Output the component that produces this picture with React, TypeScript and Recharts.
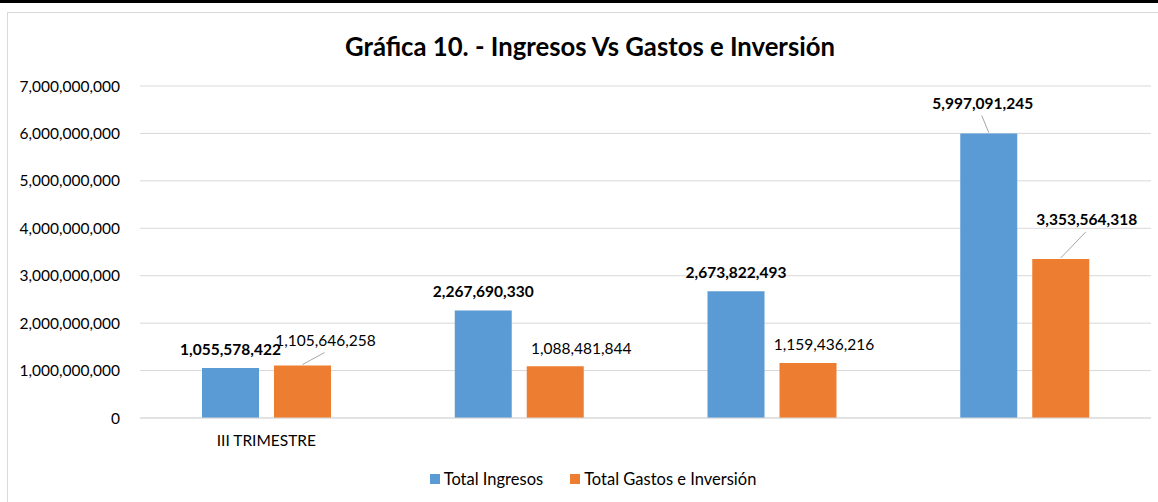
import { BarChart, Bar, XAxis, YAxis, CartesianGrid, LabelList, Legend } from 'recharts';

const categories = ['III TRIMESTRE', '', '', ''];
const totalIngresos = [1055578422, 2267690330, 2673822493, 5997091245];
const totalGastos = [1105646258, 1088481844, 1159436216, 3353564318];
const yTicks = [0, 1000000000, 2000000000, 3000000000, 4000000000, 5000000000, 6000000000, 7000000000];

const BLUE = '#5B9BD5';
const ORANGE = '#ED7D31';
const GRID = '#d9d9d9';

// label placement relative to the top-center of each bar (text center)
const ingresosLabels = [
  { dx: 0, dy: -18, bold: true, leader: false },
  { dx: 0, dy: -19, bold: true, leader: false },
  { dx: 0, dy: -19, bold: true, leader: false },
  { dx: -6, dy: -30, bold: true, leader: true },
];
const gastosLabels = [
  { dx: 23, dy: -25, bold: false, leader: true },
  { dx: 26, dy: -18, bold: false, leader: false },
  { dx: 16, dy: -18, bold: false, leader: false },
  { dx: 26, dy: -39, bold: true, leader: true },
];

const data = categories.map((c, i) => ({
  name: c,
  ingresos: totalIngresos[i],
  gastos: totalGastos[i],
}));

const fmt = (v: number) => v.toLocaleString('en-US');

const makeLabel = (cfg: typeof ingresosLabels) => (props: any) => {
  const { x, y, width, value, index } = props;
  const c = cfg[index];
  const cx = Number(x) + Number(width) / 2;
  const top = Number(y);
  const lx = cx + c.dx;
  const ly = top + c.dy;
  return (
    <g key={`lbl-${index}`}>
      {c.leader && (
        <line x1={cx} y1={top - 1} x2={lx - 1} y2={ly + 12} stroke="#a6a6a6" strokeWidth={1} />
      )}
      <text
        x={lx}
        y={ly}
        dy="0.35em"
        textAnchor="middle"
        fill="#000"
        fontSize={15.5}
        fontWeight={c.bold ? 700 : 400}
      >
        {fmt(value)}
      </text>
    </g>
  );
};

const renderLegend = () => (
  <div style={{ display: 'flex', justifyContent: 'center', alignItems: 'center', fontSize: 16.5, color: '#000', paddingLeft: 28 }}>
    <span style={{ display: 'inline-block', width: 10, height: 10, background: BLUE, marginRight: 4 }} />
    <span style={{ marginRight: 27 }}>Total Ingresos</span>
    <span style={{ display: 'inline-block', width: 10, height: 10, background: ORANGE, marginRight: 4 }} />
    <span>Total Gastos e Inversión</span>
  </div>
);

export default function App() {
  return (
    <div style={{ position: 'absolute', left: 0, top: 0, width: 1158, height: 502, overflow: 'hidden', background: '#fff', fontFamily: 'Lato, sans-serif' }}>
      <div style={{ position: 'absolute', left: 0, top: 0, width: 1158, height: 3, background: '#000' }} />
      <div style={{ position: 'absolute', left: 7, top: 12, width: 1170, height: 510, border: `1px solid ${GRID}`, boxSizing: 'border-box' }} />
      <div style={{ position: 'absolute', left: 90, top: 30, width: 1000, textAlign: 'center', fontSize: 25.7, fontWeight: 700, color: '#000', lineHeight: '32px' }}>
        Gráfica 10. - Ingresos Vs Gastos e Inversión
      </div>
      <div style={{ position: 'absolute', left: 0, top: 0 }}>
        <BarChart
          width={1158}
          height={502}
          data={data}
          margin={{ top: 86, right: 7, left: 0, bottom: 0 }}
          barSize={57}
          barGap={15}
        >
          <CartesianGrid vertical={false} stroke={GRID} strokeWidth={1} />
          <XAxis
            dataKey="name"
            height={84}
            axisLine={{ stroke: GRID }}
            tickLine={false}
            tickSize={0}
            tickMargin={17}
            tick={{ fill: '#000', fontSize: 15.5 }}
            interval={0}
          />
          <YAxis
            width={140}
            domain={[0, 7000000000]}
            ticks={yTicks}
            tickFormatter={fmt}
            axisLine={false}
            tickLine={false}
            tickSize={0}
            tickMargin={20}
            tick={{ fill: '#000', fontSize: 15.5 }}
          />
          <Legend
            verticalAlign="middle"
            layout="horizontal"
            content={renderLegend}
            wrapperStyle={{ top: 469, left: 0, width: 1158 }}
          />
          <Bar dataKey="ingresos" name="Total Ingresos" fill={BLUE} isAnimationActive={false}>
            <LabelList dataKey="ingresos" content={makeLabel(ingresosLabels)} />
          </Bar>
          <Bar dataKey="gastos" name="Total Gastos e Inversión" fill={ORANGE} isAnimationActive={false}>
            <LabelList dataKey="gastos" content={makeLabel(gastosLabels)} />
          </Bar>
        </BarChart>
      </div>
    </div>
  );
}
